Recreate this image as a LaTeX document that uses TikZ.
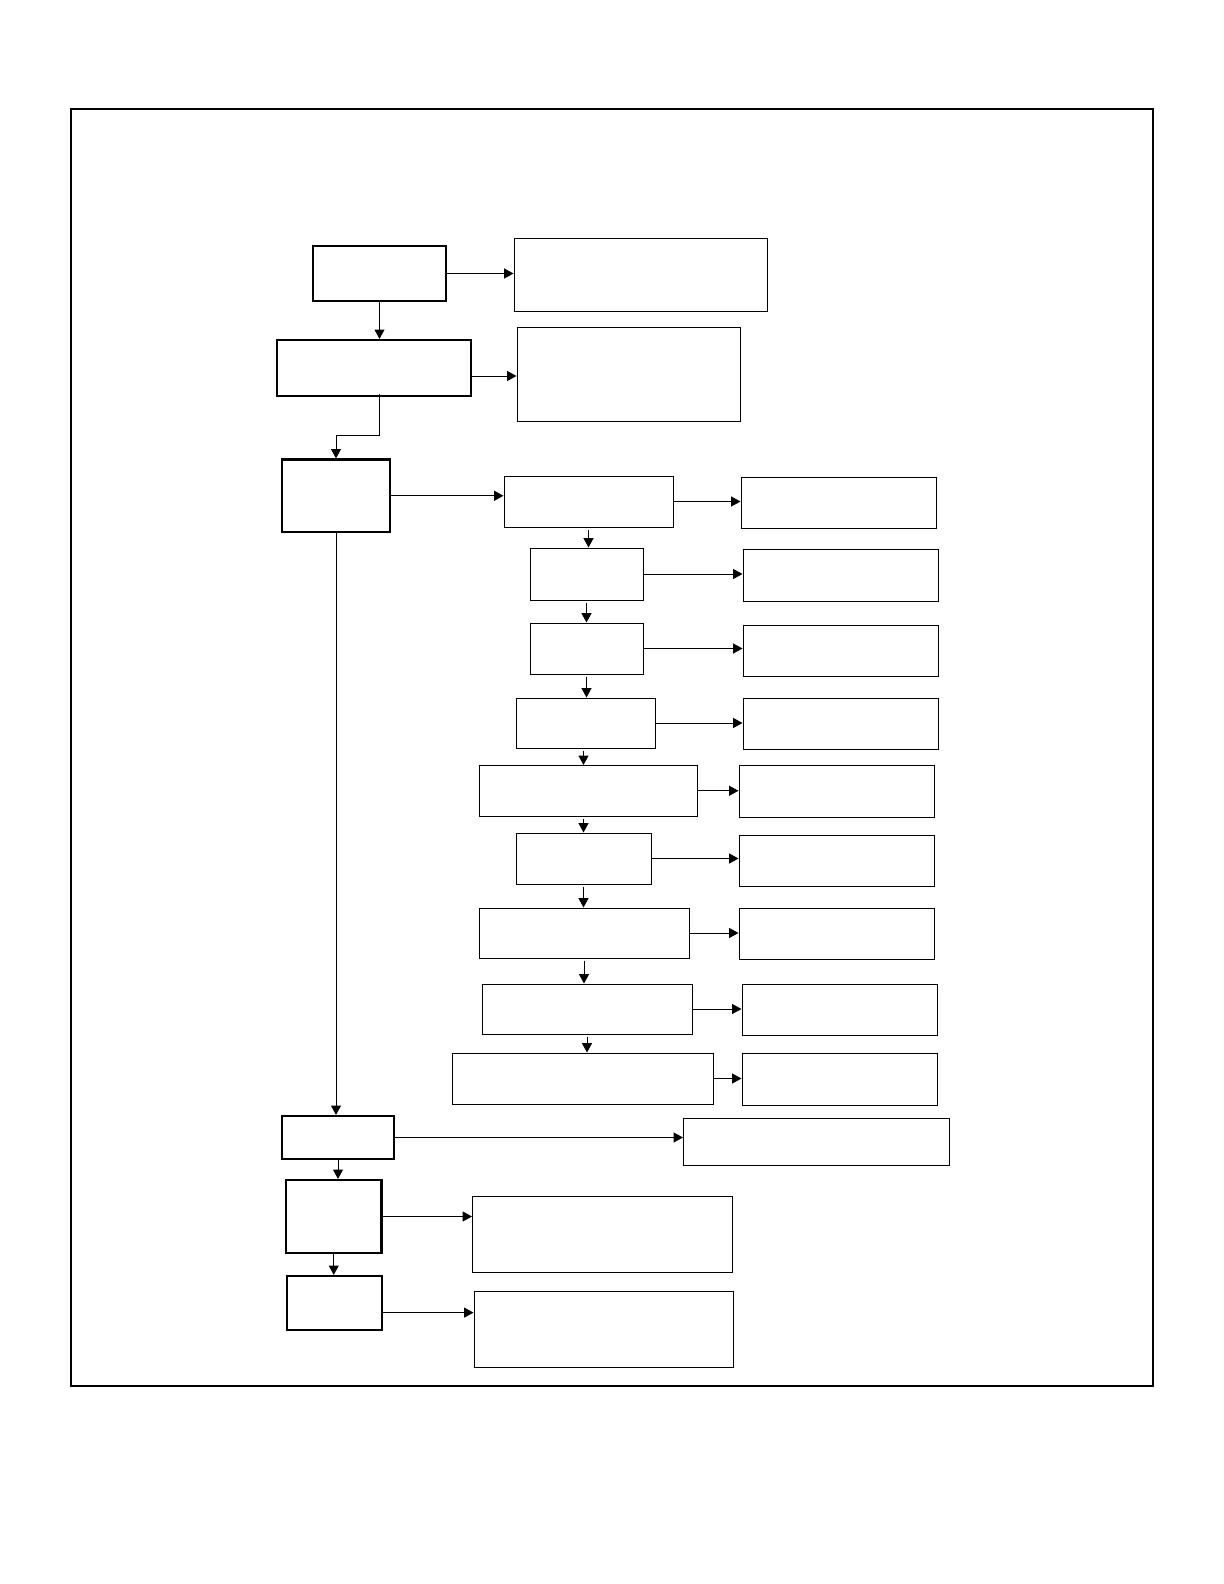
\documentclass[tikz,border=0pt]{standalone}
\usetikzlibrary{arrows.meta,calc,fit}
\begin{document}
\begin{tikzpicture}[x=0.5pt,y=-0.5pt,
  thinbox/.style={draw,line width=0.5pt,inner sep=0pt},
  thickbox/.style={draw,line width=1.1pt,inner sep=0pt},
  conn/.style={line width=0.5pt,-{Triangle[length=4.7pt,width=5pt]}}]
\useasboundingbox (0,0) rectangle (1224,1584);
% outer frame
\draw[line width=1.1pt] (70.7,109) rectangle (1153.3,1385.6);
% left column
\node[thickbox,fit={(313,246) (446,301)}] (A) {};
\node[thinbox,fit={(514,238) (767,311)}] (Ar) {};
\node[thickbox,fit={(277,340) (471,396)}] (B) {};
\node[thinbox,fit={(517,327) (740,421)}] (Br) {};
\node[thickbox,fit={(282,459.5) (390,532)}] (C) {};
% middle chain
\node[thinbox,fit={(504,476) (673,527)}] (D1) {};
\node[thinbox,fit={(741,477) (936,528)}] (E1) {};
\node[thinbox,fit={(530,548) (643,600)}] (D2) {};
\node[thinbox,fit={(743,549) (938,601)}] (E2) {};
\node[thinbox,fit={(530,623) (643,674)}] (D3) {};
\node[thinbox,fit={(743,625) (938,676)}] (E3) {};
\node[thinbox,fit={(516,698) (655,748)}] (D4) {};
\node[thinbox,fit={(743,698) (938,749)}] (E4) {};
\node[thinbox,fit={(479,765.5) (697,816)}] (D5) {};
\node[thinbox,fit={(739,765.5) (934,817)}] (E5) {};
\node[thinbox,fit={(516,833) (651,884)}] (D6) {};
\node[thinbox,fit={(739,835) (934,886)}] (E6) {};
\node[thinbox,fit={(479,908) (689,958)}] (D7) {};
\node[thinbox,fit={(739,908) (934,959)}] (E7) {};
\node[thinbox,fit={(482,984) (692,1034)}] (D8) {};
\node[thinbox,fit={(742,984) (937,1035)}] (E8) {};
\node[thinbox,fit={(452,1053) (713,1104)}] (D9) {};
\node[thinbox,fit={(742,1053) (937,1105)}] (E9) {};
% bottom
\node[thickbox,fit={(282,1116) (394,1159)}] (F) {};
\node[thinbox,fit={(683.5,1118) (949.5,1165)}] (G) {};
\node[thickbox,fit={(286,1180) (381.5,1253)}] (H) {};
\node[thinbox,fit={(472.5,1196.5) (732.5,1272)}] (Hr) {};
\node[thickbox,fit={(287,1276) (382,1330)}] (I) {};
\node[thinbox,fit={(474,1291) (733.5,1367)}] (Ir) {};
% connectors
\draw[conn] (A.east) -- (A.east -| Ar.west);
\draw[conn] (A.south) -- (A.south |- B.north);
\draw[conn] ($(B.east)+(0,8)$) coordinate (bx) -- (bx -| Br.west);
\draw[conn] ($(B.south -| A.south)+(0,-3)$) -- ++(0,41) -| (C.north);
\draw[conn] (C.east) -- (C.east -| D1.west);
\draw[conn] (C.south) -- (C.south |- F.north);
\foreach \i in {1,...,9} {
  \draw[conn] (D\i.east) -- (D\i.east -| E\i.west);
}
\foreach \i/\j in {1/2,2/3,3/4,6/7,7/8,8/9} {
  \draw[conn] ($(D\i.south)+(0,2)$) coordinate (dd) -- (dd |- D\j.north);
}
\draw[conn] ($(D4.south -| D6.south)+(0,2)$) coordinate (dd) -- (dd |- D5.north);
\draw[conn] ($(D5.south -| D6.south)+(0,2)$) coordinate (dd) -- (dd |- D6.north);
\draw[conn] (F.east) -- (F.east -| G.west);
\draw[conn] (F.south) -- (F.south |- H.north);
\draw[conn] (H.east) -- (H.east -| Hr.west);
\draw[conn] (H.south) -- (H.south |- I.north);
\draw[conn] ($(I.east)+(0,9.6)$) coordinate (ix) -- (ix -| Ir.west);
\end{tikzpicture}
\end{document}
